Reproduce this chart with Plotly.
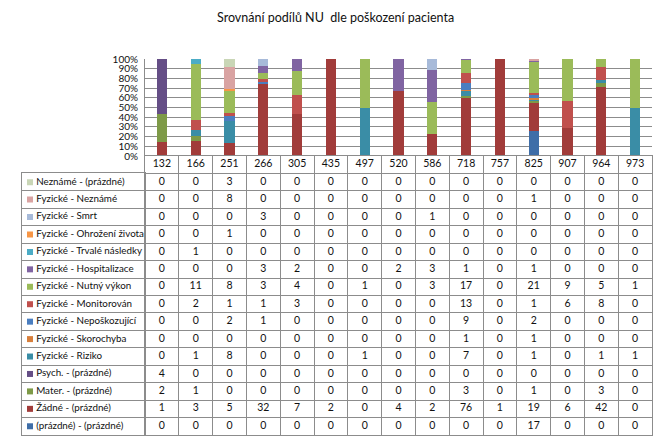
import plotly.graph_objects as go

W, H = 667, 442

categories = ["132", "166", "251", "266", "305", "435", "497", "520", "586",
              "718", "757", "825", "907", "964", "973"]

# series (bottom of stack first)
prazdne_prazdne = [0, 0, 0, 0, 0, 0, 0, 0, 0, 0, 0, 17, 0, 0, 0]
zadne = [1, 3, 5, 32, 7, 2, 0, 4, 2, 76, 1, 19, 6, 42, 0]
mater = [2, 1, 0, 0, 0, 0, 0, 0, 0, 3, 0, 1, 0, 3, 0]
psych = [4, 0, 0, 0, 0, 0, 0, 0, 0, 0, 0, 0, 0, 0, 0]
riziko = [0, 1, 8, 0, 0, 0, 1, 0, 0, 7, 0, 1, 0, 1, 1]
skorochyba = [0, 0, 0, 0, 0, 0, 0, 0, 0, 1, 0, 1, 0, 0, 0]
neposkozujici = [0, 0, 2, 1, 0, 0, 0, 0, 0, 9, 0, 2, 0, 0, 0]
monitorovan = [0, 2, 1, 1, 3, 0, 0, 0, 0, 13, 0, 1, 6, 8, 0]
nutny_vykon = [0, 11, 8, 3, 4, 0, 1, 0, 3, 17, 0, 21, 9, 5, 1]
hospitalizace = [0, 0, 0, 3, 2, 0, 0, 2, 3, 1, 0, 1, 0, 0, 0]
trvale = [0, 1, 0, 0, 0, 0, 0, 0, 0, 0, 0, 0, 0, 0, 0]
ohrozeni = [0, 0, 1, 0, 0, 0, 0, 0, 0, 0, 0, 0, 0, 0, 0]
smrt = [0, 0, 0, 3, 0, 0, 0, 0, 1, 0, 0, 0, 0, 0, 0]
fyz_nezname = [0, 0, 8, 0, 0, 0, 0, 0, 0, 0, 0, 1, 0, 0, 0]
nezname_prazdne = [0, 0, 3, 0, 0, 0, 0, 0, 0, 0, 0, 0, 0, 0, 0]

series = [
    ("(prázdné) - (prázdné)", prazdne_prazdne, "#3F6EA8"),
    ("Žádné - (prázdné)", zadne, "#A13C3A"),
    ("Mater. - (prázdné)", mater, "#7E9A47"),
    ("Psych. - (prázdné)", psych, "#654E86"),
    ("Fyzické - Riziko", riziko, "#3A8DA6"),
    ("Fyzické - Skorochyba", skorochyba, "#D77F3C"),
    ("Fyzické - Nepoškozující", neposkozujici, "#4A7EC0"),
    ("Fyzické - Monitorován", monitorovan, "#C0504D"),
    ("Fyzické - Nutný výkon", nutny_vykon, "#9BBB59"),
    ("Fyzické - Hospitalizace", hospitalizace, "#8064A2"),
    ("Fyzické - Trvalé následky", trvale, "#4BACC6"),
    ("Fyzické - Ohrožení života", ohrozeni, "#F79646"),
    ("Fyzické - Smrt", smrt, "#A7BAD9"),
    ("Fyzické - Neznámé", fyz_nezname, "#D9A3A2"),
    ("Neznámé - (prázdné)", nezname_prazdne, "#C9D6B6"),
]

title_text = "Srovnání podílů NU  dle poškození pacienta"

FONT = "Lato"
GRID = "#8C8C8C"

def px_x(p):
    return p / W

def px_y(p):
    return 1 - p / H

fig = go.Figure()

# stacked 100% bars
for name, vals, col in series:
    fig.add_trace(go.Bar(x=categories, y=vals, name=name, marker_color=col,
                         marker_line_width=0, xaxis="x", yaxis="y"))

# table (rows top to bottom = reversed stacking order)
header_key = " "
table_rows = [s[0] for s in series][::-1]
tx, ty, tt = [], [], []
for c in categories:
    tx.append(c); ty.append(header_key); tt.append(c)
for name, vals, col in series:
    for c, v in zip(categories, vals):
        tx.append(c); ty.append(name); tt.append(str(v))
fig.add_trace(go.Scatter(x=tx, y=ty, text=tt, mode="text",
                         textfont=dict(family=FONT, size=10.5, color="#111"),
                         xaxis="x2", yaxis="y2", hoverinfo="skip"))

# legend column
fig.add_trace(go.Scatter(x=[0.065] * len(table_rows), y=table_rows, mode="markers",
                         marker=dict(symbol="square", size=6,
                                     color=[s[2] for s in series][::-1]),
                         xaxis="x3", yaxis="y3", hoverinfo="skip"))
fig.add_trace(go.Scatter(x=[0.115] * len(table_rows), y=table_rows, text=table_rows,
                         mode="text", textposition="middle right",
                         textfont=dict(family=FONT, size=9.8, color="#111"),
                         xaxis="x3", yaxis="y3", hoverinfo="skip"))

xdom = [px_x(145), px_x(652)]
common = dict(automargin=False, zeroline=False, ticks="")
fig.update_layout(
    template="none",
    width=W, height=H, autosize=False,
    margin=dict(l=0, r=0, t=0, b=0, pad=0),
    paper_bgcolor="white", plot_bgcolor="white",
    showlegend=False,
    barmode="stack", barnorm="percent", bargap=0.7,
    font=dict(family=FONT, size=11, color="#111"),
    annotations=[dict(text=title_text, x=px_x(335), y=px_y(18), xref="paper", yref="paper",
                      xanchor="center", yanchor="middle",
                      showarrow=False, font=dict(family=FONT, size=12.5, color="#111"))],
    xaxis=dict(type="category", categoryarray=categories, domain=xdom, anchor="y",
               showticklabels=False, showgrid=False, **common),
    yaxis=dict(domain=[px_y(156), px_y(59)], range=[0, 100], dtick=10, ticksuffix="%",
               showgrid=True, gridcolor=GRID, gridwidth=1,
               showline=True, linecolor=GRID, linewidth=1,
               ticklabelstandoff=4, tickfont=dict(family=FONT, size=10, color="#111"),
               anchor="x", **common),
    xaxis2=dict(type="category", categoryarray=categories, domain=xdom, anchor="y2",
                range=[-0.5, len(categories) - 0.5],
                showticklabels=False, showgrid=True, gridcolor=GRID, tickson="boundaries",
                showline=True, mirror=True, linecolor=GRID, **common),
    yaxis2=dict(type="category", categoryarray=[header_key] + table_rows,
                domain=[px_y(435), px_y(156)], anchor="x2",
                range=[len(table_rows) + 0.5, -0.5],
                showticklabels=False, showgrid=True, gridcolor=GRID, tickson="boundaries",
                showline=True, mirror=True, linecolor=GRID, **common),
    xaxis3=dict(domain=[px_x(22), px_x(145)], range=[0, 1], anchor="y3",
                showticklabels=False, showgrid=False,
                showline=True, mirror=True, linecolor=GRID, **common),
    yaxis3=dict(type="category", categoryarray=table_rows,
                domain=[px_y(435), px_y(156 + 279 / 16)], anchor="x3",
                range=[len(table_rows) - 0.5, -0.5],
                showticklabels=False, showgrid=True, gridcolor=GRID, tickson="boundaries",
                showline=True, mirror=True, linecolor=GRID, **common),
)

fig.write_html("out.html", config={"displayModeBar": False},
               post_script="document.body.style.margin='0';")
